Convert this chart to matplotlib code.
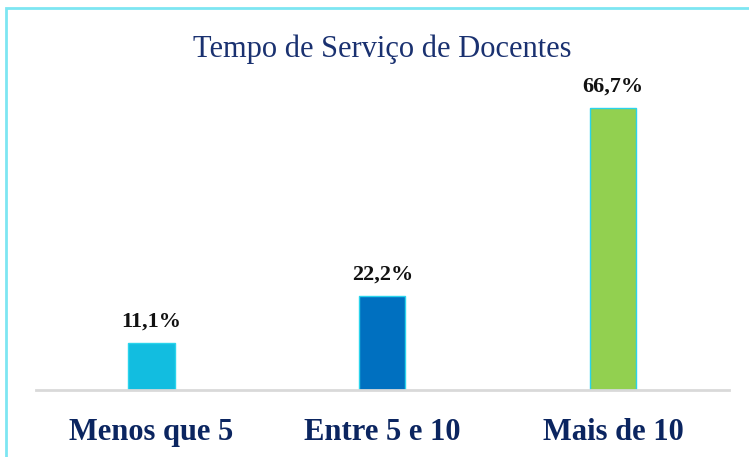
import matplotlib.pyplot as plt
from matplotlib.patches import Rectangle

# -------------------------------
# Data
# -------------------------------
categories = ["Menos que 5", "Entre 5 e 10", "Mais de 10"]
percentages = [11.1, 22.2, 66.7]
bar_colors = ["#12BDE0", "#0070C0", "#92D050"]

navy = "#0B2560"
serif = ["Liberation Serif", "DejaVu Serif"]

# -------------------------------
# Figure and axes
# -------------------------------
fig = plt.figure(figsize=(7.49, 4.57), dpi=100)
ax = fig.add_axes([0.048, 0.1466, 0.925, 0.694])

x = range(len(categories))
bars = ax.bar(x, percentages, width=0.2, color=bar_colors,
              edgecolor="#2AD4EC", linewidth=1.0, zorder=2)

ax.set_xlim(-0.5, 2.5)
ax.set_ylim(0, 75)

# value labels above bars
for bar, val in zip(bars, percentages):
    ax.text(bar.get_x() + bar.get_width() / 2, val + 2.7,
            f"{val:.1f}%".replace(".", ","),
            ha="center", va="bottom", fontsize=16, fontweight="bold",
            family=serif, color="#111111")

ax.set_xticks(list(x))
ax.set_xticklabels(categories, fontsize=22, fontweight="bold",
                   family=serif, color=navy)
ax.tick_params(axis="x", length=0, pad=20)
ax.set_yticks([])

for side in ["top", "right", "left"]:
    ax.spines[side].set_visible(False)
ax.spines["bottom"].set_color("#D9D9D9")
ax.spines["bottom"].set_linewidth(2)

fig.text(0.511, 0.893, "Tempo de Serviço de Docentes", ha="center",
         va="center", fontsize=22, family=serif, color="#1A3170")

# chart area border
fig.patches.append(Rectangle((6 / 749, -0.1), 1.2, 1 - 8 / 457 + 0.1,
                             transform=fig.transFigure, fill=False,
                             edgecolor="#7DE6F2", linewidth=2))

fig.savefig("out.png", dpi=100)
